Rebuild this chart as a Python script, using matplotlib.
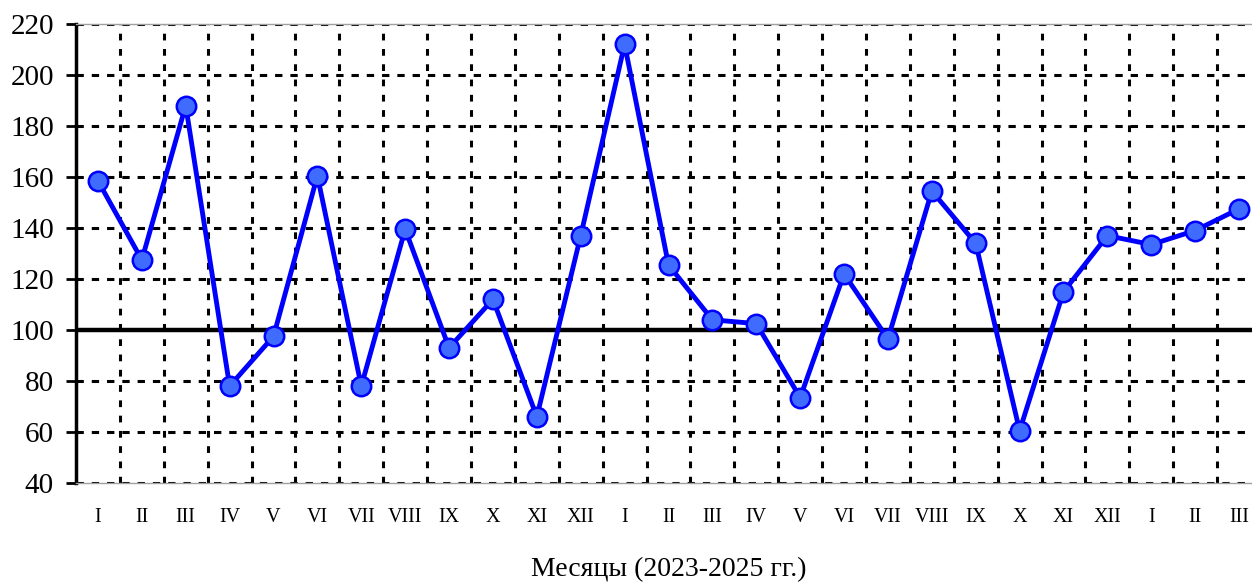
import matplotlib
matplotlib.use("Agg")
import matplotlib.pyplot as plt
import numpy as np

months = ["I", "II", "III", "IV", "V", "VI", "VII", "VIII", "IX", "X", "XI", "XII",
          "I", "II", "III", "IV", "V", "VI", "VII", "VIII", "IX", "X", "XI", "XII",
          "I", "II", "III"]
values = [158.5, 127.5, 188, 78, 97.5, 160.5, 78, 139.5, 93, 112, 66, 137,
          212, 125.5, 104, 102.5, 73.5, 122, 96.5, 154.5, 134, 60.5, 115, 137,
          133.5, 139, 147.5]
y_ticks = [40, 60, 80, 100, 120, 140, 160, 180, 200, 220]
xlabel = "Месяцы (2023-2025 гг.)"

plt.rcParams['font.family'] = ['Liberation Serif', 'DejaVu Serif']

fig = plt.figure(figsize=(12.52, 5.82), dpi=100)
ax = fig.add_axes([76/1252, 99/582, 1185/1252, 459/582])

n = len(values)
x = np.arange(n)
ax.set_xlim(-0.5, n - 0.5)
ax.set_ylim(40, 220)

# grid
for b in np.arange(0.5, n - 0.5, 1.0):
    ax.plot([b, b], [40, 220], color='black', lw=2.2, linestyle=(0, (2.2, 2.8)), zorder=1)
for yv in y_ticks:
    if yv == 100:
        continue
    ax.plot([-0.5, n - 0.5], [yv, yv], color='black', lw=2.2, linestyle=(0, (2.4, 2.6)), zorder=1)
ax.axhline(100, color='black', lw=3.2, zorder=2)

ax.plot(x, values, color='#0000FF', lw=3.5, marker='o', markersize=14,
        markerfacecolor='#3F6CFF', markeredgecolor='#0000FF', markeredgewidth=1.8, zorder=3)

ax.set_yticks(y_ticks)
ax.set_xticks(x)
ax.set_xticklabels(months)
ax.tick_params(axis='y', labelsize=21, length=7, width=2, direction='out', pad=9)
ax.tick_params(axis='x', labelsize=14.5, length=0, pad=18)

for s in ['top', 'bottom', 'right']:
    ax.spines[s].set_color('#A0A0A0')
    ax.spines[s].set_linewidth(1)
ax.spines['right'].set_visible(False)
ax.spines['left'].set_linewidth(2.5)
ax.spines['left'].set_color('black')

ax.set_xlabel(xlabel, fontsize=20, labelpad=22)

fig.savefig("out.png", dpi=100)
